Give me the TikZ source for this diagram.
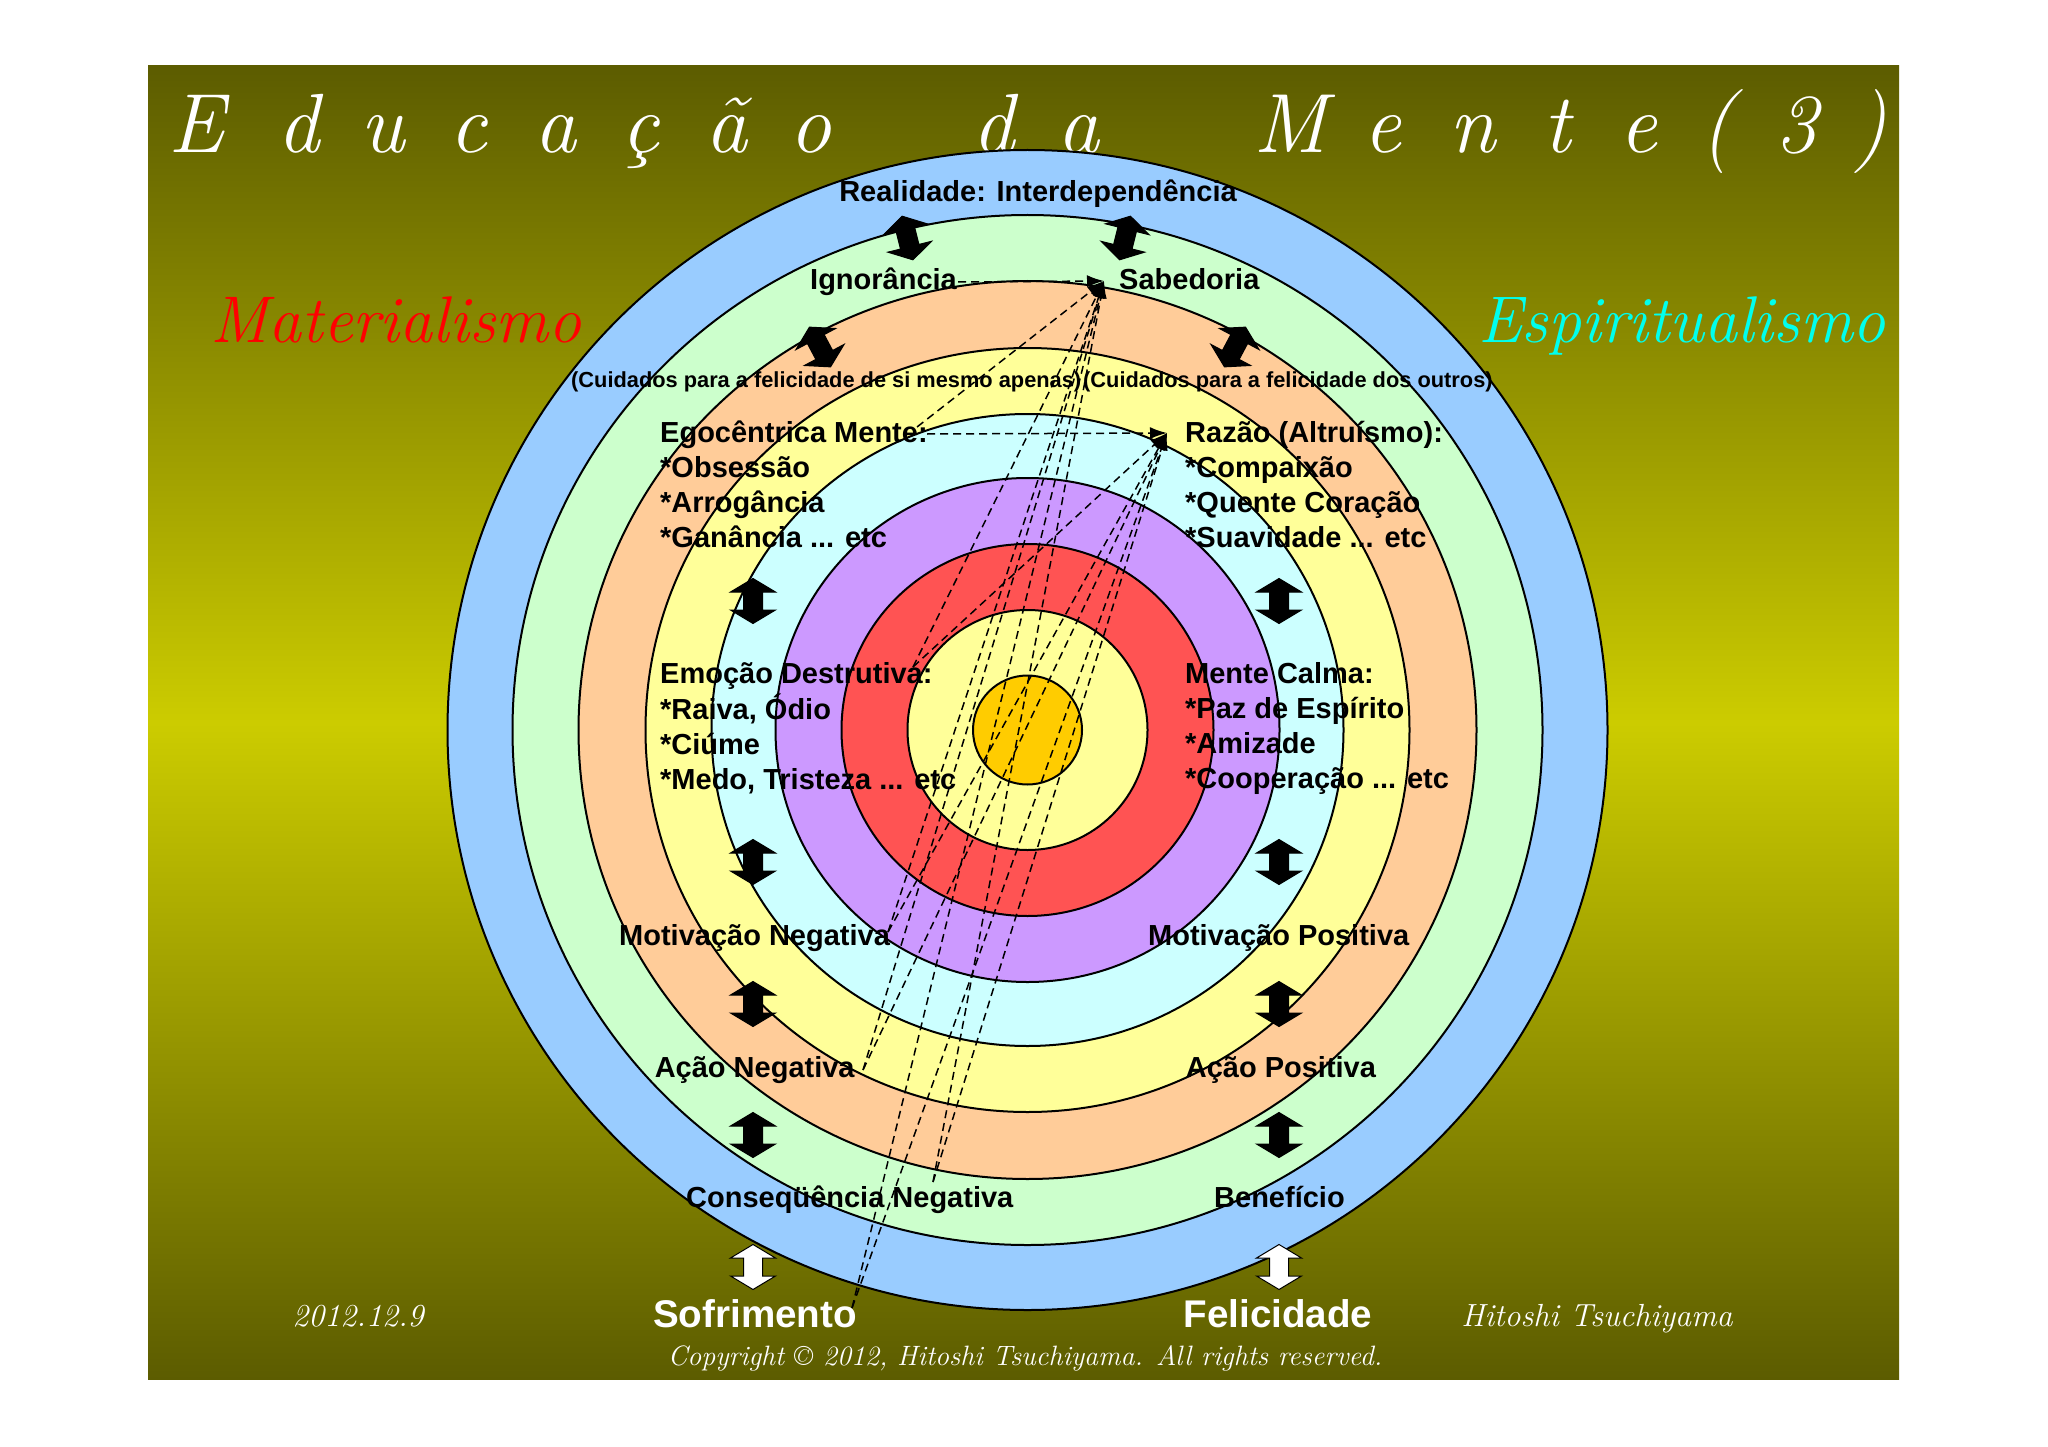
\documentclass[tikz,border=0pt]{standalone}
\usepackage{fontspec}
\newfontfamily\lab{Liberation Sans}
\usetikzlibrary{arrows.meta}
\definecolor{olivedark}{HTML}{5C5C00}
\definecolor{olivemid}{HTML}{CCCC00}
\definecolor{cblue}{HTML}{99CCFF}
\definecolor{cgreen}{HTML}{CCFFCC}
\definecolor{cpeach}{HTML}{FFCC99}
\definecolor{cyell}{HTML}{FFFF99}
\definecolor{ccyan}{HTML}{CCFFFF}
\definecolor{cpurp}{HTML}{CC99FF}
\definecolor{cred}{HTML}{FF5353}
\definecolor{cgold}{HTML}{FFCC00}
\definecolor{espcol}{HTML}{00FFEE}
\begin{document}
\begin{tikzpicture}[x=1pt,y=-1pt,
  lbl/.style={font=\lab\bfseries\fontsize{29}{35}\selectfont, inner sep=0pt, text=black},
  smalllbl/.style={font=\lab\bfseries\fontsize{21.8}{26}\selectfont, inner sep=0pt, text=black},
  biglbl/.style={font=\lab\bfseries\fontsize{38.6}{44}\selectfont, inner sep=0pt, text=white, anchor=base},
  ttl/.style={font=\itshape\fontsize{84}{90}\selectfont, text=white, inner sep=0pt, anchor=base},
  scr/.style={font=\itshape\fontsize{66}{70}\selectfont, inner sep=0pt, anchor=base},
  foot/.style={font=\itshape\fontsize{32}{36}\selectfont, text=white, inner sep=0pt, anchor=base},
  ring/.style={draw=black, line width=2pt},
  dashline/.style={dash pattern=on 8pt off 5pt, line width=1.5pt, -{Latex[length=17pt,width=12pt]}},
  pics/dblarrow/.style={code={
    \filldraw[fill=#1, draw=black, line width=1pt, line join=miter]
      (0,-22.5) -- (22.5,-9) -- (9.5,-9) -- (9.5,9) -- (22.5,9) -- (0,22.5)
      -- (-22.5,9) -- (-9.5,9) -- (-9.5,-9) -- (-22.5,-9) -- cycle;}}
]
\useasboundingbox (0,0) rectangle (2048,1447);
\fill[white] (0,0) rectangle (2048,1447);
\shade[top color=olivedark, bottom color=olivedark, middle color=olivemid] (148,66) rectangle (1899,1379);

% title letters
\foreach \ch/\xx [count=\i] in {E/196, d/298, u/383, c/468, a/555, ç/640, ã/726, o/810, d/993, a/1078, M/1290, e/1382, n/1473, t/1557, e/1638, {(}/1717, 3/1796, {)}/1870}
  \node[ttl] (title\i) at (\xx,153) {\ch};

\node[scr, text=red] (mat) at (396,342) {Materialismo};
\node[scr, text=espcol] (esp) at (1682,342) {Espiritualismo};

% rings
\filldraw[ring, fill=cblue] (1027.5,730) circle (580pt);
\filldraw[ring, fill=cgreen] (1027.5,730) circle (515pt);
\filldraw[ring, fill=cpeach] (1027.5,730) circle (449pt);
\filldraw[ring, fill=cyell] (1027.5,730) circle (382pt);
\filldraw[ring, fill=ccyan] (1027.5,730) circle (316pt);
\filldraw[ring, fill=cpurp] (1027.5,730) circle (252pt);
\filldraw[ring, fill=cred] (1027.5,730) circle (186pt);
\filldraw[ring, fill=cyell] (1027.5,730) circle (120pt);
\filldraw[ring, fill=cgold] (1027.5,730) circle (54.5pt);

% labels
\node[lbl, anchor=base] (real) at (1038,202) {Realidade: Interdependência};
\node[lbl, anchor=base west] (ign) at (810,290) {Ignorância};
\node[lbl, anchor=base west] (sab) at (1119,290) {Sabedoria};
\node[smalllbl, anchor=base west] (cuid1) at (571,387) {(Cuidados para a felicidade de si mesmo apenas)};
\node[smalllbl, anchor=base west] (cuid2) at (1083,387) {(Cuidados para a felicidade dos outros)};
\node[lbl, anchor=base west] (ego) at (660,442) {\begin{tabular}[t]{@{}l@{}}Egocêntrica Mente:\\{}*Obsessão\\{}*Arrogância\\{}*Ganância ... etc\end{tabular}};
\node[lbl, anchor=base west] (raz) at (1185,442) {\begin{tabular}[t]{@{}l@{}}Razão (Altruísmo):\\{}*Compaixão\\{}*Quente Coração\\{}*Suavidade ... etc\end{tabular}};
\node[lbl, anchor=base west] (emo) at (660,683) {\begin{tabular}[t]{@{}l@{}}Emoção Destrutiva:\\{}*Raiva, Ódio\\{}*Ciúme\\{}*Medo, Tristeza ... etc\end{tabular}};
\node[lbl, anchor=base west] (calm) at (1185,683) {\begin{tabular}[t]{@{}l@{}}Mente Calma:\\{}*Paz de Espírito\\{}*Amizade\\{}*Cooperação ... etc\end{tabular}};
\node[lbl, anchor=base west] (motn) at (619,945) {Motivação Negativa};
\node[lbl, anchor=base west] (motp) at (1148,945) {Motivação Positiva};
\node[lbl, anchor=base west] (acn) at (654.6,1077) {Ação Negativa};
\node[lbl, anchor=base west] (acp) at (1185.6,1077) {Ação Positiva};
\node[lbl, anchor=base west] (conn) at (686,1207) {Conseqüência Negativa};
\node[lbl, anchor=base west] (ben) at (1214,1207) {Benefício};
\node[biglbl] (sof) at (755,1327) {Sofrimento};
\node[biglbl] (fel) at (1278,1327) {Felicidade};

% block arrows
\pic[rotate=14] at (907.5,238) {dblarrow=black};
\pic[rotate=-14] at (1125,238) {dblarrow=black};
\pic[rotate=28] at (820,347) {dblarrow=black};
\pic[rotate=-28] at (1235,347) {dblarrow=black};
\foreach \yy in {601,862,1004,1135} {
  \pic at (753,\yy) {dblarrow=black};
  \pic at (1279,\yy) {dblarrow=black};
}
\pic at (753,1267) {dblarrow=white};
\pic at (1279,1267) {dblarrow=white};

% dashed connectors
\coordinate (t1) at (1104,281);
\coordinate (t2) at (1167,433);
\coordinate (s-ign) at (958,282);
\coordinate (s-egoh) at (927,434);
\coordinate (s-egod) at (917,427);
\coordinate (s-emo) at (913,667);
\coordinate (s-mot) at (888,932);
\coordinate (s-acn) at (863,1070);
\coordinate (s-con) at (933,1182);
\coordinate (s-sof) at (852,1308);
\draw[dashline] (s-ign) -- (t1);
\draw[dashline] (s-egoh) -- (t2);
\draw[dashline] (s-egod) -- (t1);
\foreach \s in {emo,mot,acn,con,sof} {
  \draw[dashline] (s-\s) -- (t1);
  \draw[dashline] (s-\s) -- (t2);
}

% footer
\node[foot] (date) at (358,1326) {2012.12.9};
\node[foot] (auth) at (1597,1326) {Hitoshi Tsuchiyama};
\node[foot, font=\itshape\fontsize{28}{32}\selectfont] (copy) at (1025,1365) {Copyright © 2012, Hitoshi Tsuchiyama. All rights reserved.};
\end{tikzpicture}
\end{document}
